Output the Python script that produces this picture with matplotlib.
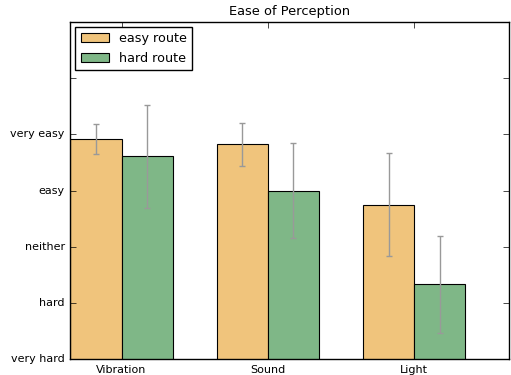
import numpy as np
import matplotlib
matplotlib.use('Agg')
import matplotlib.pyplot as plt

plt.style.use('classic')
plt.rcParams.update({'font.size': 8, 'font.family': 'DejaVu Sans'})

senses = ['Vibration', 'Sound', 'Light']
easy_mean = [4.92, 4.82, 3.75]
easy_err = [0.27, 0.39, 0.92]
hard_mean = [4.61, 4.00, 2.33]
hard_err = [0.92, 0.85, 0.86]
scale_labels = ['very hard', 'hard', 'neither', 'easy', 'very easy', '', '']

width = 0.35
ind = np.arange(len(senses))

fig = plt.figure(figsize=(5.11, 3.75), dpi=100)
ax = fig.add_axes([0.1376, 0.0427, 0.8591, 0.8986])
ax.bar(ind - width, easy_mean, width, align='edge', color='#f0c47c', edgecolor='black',
       linewidth=0.8, label='easy route')
ax.bar(ind, hard_mean, width, align='edge', color='#7fb787', edgecolor='black',
       linewidth=0.8, label='hard route')
ax.errorbar(ind - width / 2, easy_mean, yerr=easy_err, fmt='none', ecolor='#999999',
            elinewidth=1, capsize=2.5, capthick=1)
ax.errorbar(ind + width / 2, hard_mean, yerr=hard_err, fmt='none', ecolor='#999999',
            elinewidth=1, capsize=2.5, capthick=1)

ax.set_xlim(-width, len(senses) - width)
ax.set_ylim(1, 7)
ax.set_xticks(ind)
ax.set_xticklabels(senses)
ax.set_yticks(np.arange(1, 8))
ax.set_yticklabels(scale_labels)
ax.set_title('Ease of Perception', fontsize=9.4)
ax.legend(loc='upper left', fontsize=9.2, handlelength=2.2, borderaxespad=0.4)

plt.savefig('out.png', dpi=100)
